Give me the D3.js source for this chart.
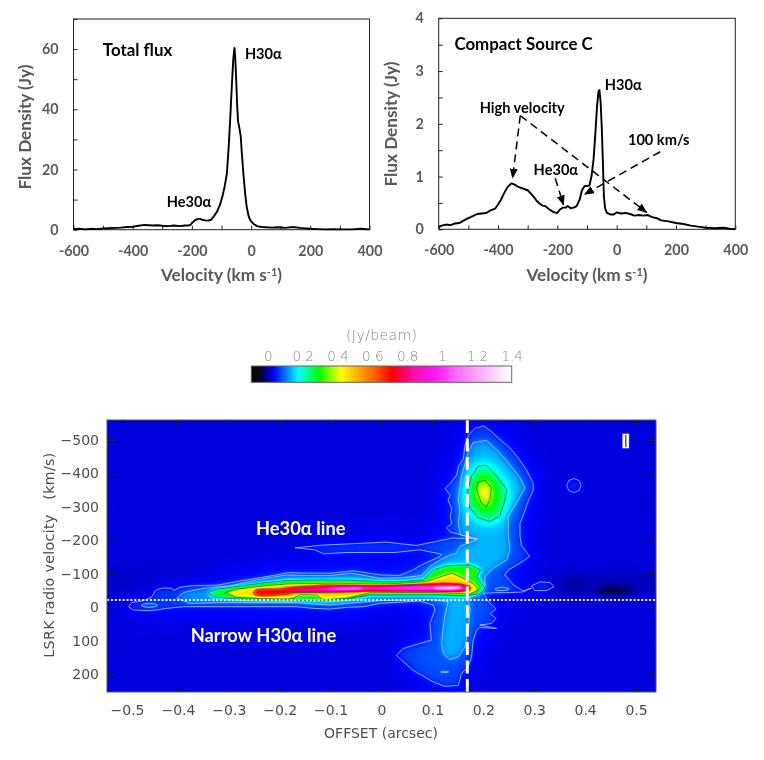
<!DOCTYPE html>
<html><head><meta charset="utf-8">
<script src="https://cdn.jsdelivr.net/npm/d3@7"></script>
<style>
html,body{margin:0;padding:0;background:#fff;width:764px;height:760px;overflow:hidden}
#heat{position:absolute;left:107px;top:420px}
#art{position:absolute;left:0;top:0}
text{font-family:Lato,"Open Sans",sans-serif}
</style></head><body>
<canvas id="heat" width="549" height="272"></canvas>
<svg id="art" width="764" height="760"></svg>
<script>
// ---------- spectra: [velocity km/s, flux density Jy]
const totalFlux=[[-600,.2],[-580,.3],[-560,.1],[-540,.3],[-520,.2],[-500,.4],[-480,.5],[-460,.6],[-440,.7],[-420,.9],[-400,1.0],[-380,1.3],[-360,1.6],[-345,1.5],[-330,1.4],[-315,1.5],[-300,1.3],[-280,1.2],[-260,1.4],[-240,1.2],[-225,1.4],[-210,1.4],[-205,1.6],[-198,2.4],[-190,3.1],[-180,3.6],[-172,3.6],[-165,3.3],[-155,3.1],[-145,3.0],[-135,3.3],[-125,4.6],[-115,6.0],[-105,8.3],[-97,11],[-90,14],[-82,18.5],[-76,27],[-71,36],[-65,48],[-60,57],[-56,60.4],[-53,56],[-50,49],[-47,41],[-44,36],[-40,34],[-35,31],[-31,25],[-26,18.5],[-20,12],[-15,7.6],[-8,4.4],[-3,3.2],[8,1.9],[20,1.2],[35,.9],[50,.8],[70,.7],[90,.8],[115,.6],[140,.9],[165,.6],[200,.3],[225,.2],[250,.1],[280,.2],[310,.1],[340,.1],[370,.3],[400,.1]];
const compactC=[[-600,.04],[-590,.07],[-575,.09],[-560,.08],[-545,.11],[-530,.12],[-515,.17],[-500,.21],[-485,.25],[-470,.29],[-455,.30],[-440,.31],[-425,.36],[-410,.39],[-400,.47],[-390,.56],[-380,.68],[-368,.80],[-355,.87],[-345,.85],[-330,.80],[-315,.77],[-300,.74],[-290,.68],[-280,.62],[-270,.54],[-260,.49],[-250,.45],[-240,.44],[-230,.39],[-220,.35],[-210,.32],[-200,.31],[-192,.37],[-182,.41],[-172,.41],[-165,.44],[-155,.40],[-145,.41],[-135,.44],[-125,.56],[-117,.74],[-108,.82],[-100,.82],[-92,.83],[-85,1.0],[-78,1.32],[-72,1.8],[-66,2.35],[-61,2.62],[-58,2.64],[-54,2.4],[-50,1.9],[-46,1.2],[-43,.62],[-39,.40],[-33,.31],[-20,.28],[-10,.28],[0,.32],[15,.30],[30,.31],[45,.29],[60,.26],[75,.27],[90,.26],[105,.27],[120,.23],[135,.21],[150,.17],[175,.15],[200,.12],[225,.10],[250,.07],[275,.05],[300,.03],[330,.02],[360,.03],[380,.01],[400,0]];
const xTicksSpec=d3.range(-600,401,100), fluxTicks=d3.range(0,71,10), compactTicks=d3.range(0,4.01,.5);
// annotations: [text, velocity, flux, is panel title]
const totalLabels=[["Total flux",-501,57.8,1],["H30α",-21,56.7,0],["He30α",-285,7.6,0]];
const compactLabels=[["Compact Source C",-547,3.40,1],["H30α",-40,2.64,0],["High velocity",-462,2.21,0],["100 km/s",38,1.60,0],["He30α",-280,1.02,0]];
const compactArrows=[[[-325,2.155],[-351,.967]],[[-325,2.155],[102,.316]],[[-207,.967],[-179,.46]],[[147,1.47],[-109,.66]]];

// ---------- colour bar
const barTicks=[0,.2,.4,.6,.8,1,1.2,1.4];
const colourStops=[-.095,-.055,.03,.175,.29,.415,.55,.71,.817,.97,1.12,1.39,1.4];
const colourNames=["#000000","#000010","#0000ff","#00ffff","#00ff00","#ffff00","#ff9000","#ff0000","#ff00a0","#ff20ff","#ff80ff","#ffffff","#ffffff"];

// ---------- position-velocity map: isophotes as [offset arcsec, velocity km/s]
const pvOffsetTicks=d3.range(-.5,.51,.1), pvVelocityTicks=d3.range(-500,201,100);
const iso1=[[-.497,-2],[-.491,-14],[-.468,-20],[-.452,-30],[-.443,-52],[-.429,-58],[-.412,-57],[-.408,-50],[-.396,-60],[-.370,-65],[-.324,-66],[-.285,-77],[-.245,-87],[-.206,-97],[-.183,-104],[-.147,-102],[-.101,-102],[-.055,-109],[-.003,-97],[.036,-95],[.062,-112],[.079,-127],[.115,-152],[.118,-159],[.075,-172],[.026,-164],[-.068,-164],[-.114,-160],[-.131,-172],[-.170,-178],[-.114,-186],[-.003,-194],[.010,-195],[.043,-189],[.069,-185],[.108,-197],[.138,-207],[.189,-205],[.167,-213],[.135,-225],[.128,-238],[.138,-250],[.135,-270],[.138,-295],[.131,-320],[.135,-335],[.125,-355],[.135,-370],[.148,-395],[.151,-420],[.161,-445],[.164,-485],[.171,-515],[.184,-535],[.200,-542],[.216,-525],[.230,-505],[.253,-475],[.269,-445],[.285,-410],[.298,-370],[.298,-350],[.289,-320],[.282,-290],[.272,-250],[.272,-215],[.275,-185],[.291,-152],[.272,-132],[.249,-112],[.242,-97],[.259,-67],[.278,-49],[.295,-58],[.278,-46],[.252,-44],[.226,-44],[.200,-42],[.210,-17],[.225,5],[.213,18],[.225,33],[.216,48],[.193,53],[.226,63],[.193,60],[.187,68],[.180,98],[.177,148],[.170,178],[.157,198],[.151,233],[.124,236],[.102,223],[.062,188],[.036,153],[.029,143],[.043,123],[.075,108],[.098,98],[.095,48],[.105,8],[.102,-7],[.075,-19],[-.003,-12],[-.036,-2],[-.068,0],[-.101,5],[-.134,3],[-.167,-2],[-.219,-2],[-.265,-2],[-.324,-2],[-.389,-2],[-.422,3],[-.455,10],[-.487,8]];
const iso1Blob=[[.295,-64],[.311,-76],[.331,-74],[.339,-62],[.324,-50],[.301,-50]];
const iso1Ring=[[.364,-364],[.368,-379],[.378,-385],[.388,-379],[.392,-364],[.388,-349],[.378,-343],[.368,-349]];
const iso2=[[-.402,-27],[-.389,-44],[-.350,-57],[-.298,-64],[-.245,-82],[-.186,-97],[-.147,-95],[-.101,-95],[-.059,-102],[-.003,-87],[.043,-89],[.079,-95],[.095,-122],[.121,-147],[.147,-162],[.154,-182],[.187,-202],[.155,-217],[.151,-252],[.154,-292],[.151,-322],[.157,-392],[.170,-462],[.180,-492],[.206,-499],[.229,-467],[.252,-427],[.272,-387],[.282,-357],[.265,-312],[.249,-272],[.249,-222],[.252,-172],[.246,-142],[.219,-117],[.203,-92],[.203,-62],[.193,-44],[.170,-27],[.174,8],[.170,68],[.164,118],[.151,148],[.134,156],[.122,138],[.118,108],[.120,78],[.124,28],[.131,-17],[.095,-24],[-.003,-20],[-.068,-12],[-.101,-7],[-.134,-10],[-.167,-14],[-.219,-14],[-.271,-14],[-.324,-14],[-.376,-12]];
const iso2OvalA=[[-.472,-6],[-.467,-10],[-.456,-12],[-.445,-10],[-.440,-6],[-.445,-2],[-.456,0],[-.467,-2]];
const iso2OvalB=[[.223,-55],[.23,-59],[.24,-60],[.25,-56],[.249,-52],[.236,-50],[.226,-51]];
const iso2OvalC=[[.116,193],[.124,191],[.132,193],[.124,195]];
const iso3=[[-.341,-44],[-.324,-54],[-.285,-62],[-.239,-72],[-.186,-80],[-.134,-82],[-.068,-82],[-.003,-77],[.043,-77],[.082,-82],[.102,-112],[.128,-124],[.174,-127],[.195,-112],[.187,-92],[.196,-72],[.203,-57],[.193,-42],[.170,-34],[.108,-37],[.043,-37],[-.023,-37],[-.068,-24],[-.114,-20],[-.140,-20],[-.180,-22],[-.245,-22],[-.298,-26],[-.330,-32]];
const iso3Lobe=[[.170,-352],[.177,-392],[.190,-422],[.206,-425],[.226,-392],[.246,-352],[.242,-317],[.232,-272],[.213,-257],[.190,-267],[.174,-297],[.167,-332]];
const iso4=[[-.307,-44],[-.285,-54],[-.245,-62],[-.186,-70],[-.101,-72],[-.003,-70],[.043,-72],[.088,-77],[.108,-87],[.138,-102],[.167,-82],[.183,-67],[.190,-52],[.174,-40],[.108,-44],[-.023,-44],[-.068,-27],[-.114,-22],[-.127,-37],[-.160,-39],[-.173,-27],[-.186,-24],[-.232,-26],[-.285,-30]];
const iso4Lobe=[[.187,-357],[.190,-374],[.203,-380],[.216,-357],[.213,-322],[.206,-300],[.196,-312],[.190,-337]];
const iso5=[[-.252,-44],[-.245,-54],[-.199,-55],[-.186,-59],[-.114,-67],[-.003,-65],[.043,-67],[.121,-72],[.154,-70],[.174,-62],[.174,-52],[.154,-47],[.043,-46],[-.023,-48],[-.101,-45],[-.173,-44],[-.186,-39],[-.232,-34],[-.249,-37]];
const coreMagenta=[[-.186,-52],[-.127,-57],[-.003,-62],[.043,-65],[.154,-67],[.167,-60],[.160,-50],[.043,-50],[-.023,-52],[-.101,-48],[-.167,-46]];
const corePink=[[-.127,-55],[-.068,-60],[-.003,-61],[.043,-62],[.108,-63],[.154,-62],[.159,-57],[.141,-52],[.043,-53],[-.023,-55],[-.101,-53]];
const coreWhiteA=[[-.114,-55],[-.08,-59],[-.04,-60],[-.04,-54],[-.08,-53]];
const coreWhiteB=[[.105,-61],[.154,-62],[.159,-57],[.141,-53],[.105,-54]];
const darkCore=[[.42,-50],[.45,-57],[.49,-53],[.50,-47],[.46,-42],[.43,-44]];
const darkBandR=[[.33,-85],[.40,-100],[.54,-105],[.54,-55],[.45,-35],[.33,-45]];
const darkBandL=[[-.54,-55],[-.54,-100],[-.40,-110],[-.30,-105],[-.36,-70],[-.45,-45]];
const darkSpotA=[[.36,-85],[.40,-88],[.40,-72],[.36,-72]];
const darkSpotB=[[.34,-55],[.40,-58],[.40,-46],[.35,-46]];
const beamBox=[[.474,-518],[.486,-476]], beamLine=[.480,-515,-479];
const rowDotted=-22, colDashed=.1686;
const valueBase=.018;
// polygon, value step, smoothing radius
const pvLayers=[
 [iso1,.035,14],[iso1,.03,2.2],[iso1Blob,.04,3],[iso1Ring,.03,3],
 [iso2,.05,2.4],[iso2OvalA,.04,1.5],[iso2OvalB,.03,1.5],[iso2OvalC,.03,1],
 [iso3,.17,1.6],[iso3Lobe,.14,8],[iso3Lobe,.03,4],
 [iso4,.16,1.3],[iso4Lobe,.14,4],
 [iso5,.29,1.1],[coreMagenta,.14,.9],[corePink,.18,.8],[coreWhiteA,.3,.8],[coreWhiteB,.3,.8],
 [darkBandR,-.014,7],[darkBandL,-.012,9],[darkCore,-.09,3],[darkSpotA,-.02,3],[darkSpotB,-.02,3]];
const pvLightContours=[iso1,iso1Blob,iso1Ring,iso2,iso2OvalA,iso2OvalB,iso2OvalC];
const pvDarkContours=[iso3,iso3Lobe,iso4,iso4Lobe,iso5];
const pvLabels=[["He30α line",-.2465,-217],["Narrow H30α line",-.3748,103]];

const svg=d3.select("#art");
const INK="#000", GREY="#595959", PV="#4d4d4d";

function spectrum(o){
  const x=d3.scaleLinear().domain([-600,400]).range([o.l,o.r]);
  const y=d3.scaleLinear().domain(o.yDomain).range([o.b,o.t]);
  const g=svg.append("g");
  const ax=g.append("g").attr("transform",`translate(0,${o.b})`)
    .call(d3.axisBottom(x).tickValues(xTicksSpec).tickSizeOuter(0).tickSizeInner(-4).tickPadding(16).tickFormat(d=>d%200===0?d:""));
  const ay=g.append("g").attr("transform",`translate(${o.l},0)`)
    .call(d3.axisLeft(y).tickValues(o.ticks).tickSizeOuter(0).tickSizeInner(-4).tickPadding(15).tickFormat(o.fmt));
  [ax,ay].forEach(a=>{a.select(".domain").remove();a.selectAll("line").attr("stroke","#222");
    a.selectAll("text").attr("fill",GREY).style("font","700 14.3px Lato")});
  g.append("rect").attr("x",o.l).attr("y",o.t).attr("width",o.r-o.l).attr("height",o.b-o.t)
    .attr("fill","none").attr("stroke","#222").attr("stroke-width",1);
  g.append("path").datum(o.data).attr("fill","none").attr("stroke",INK).attr("stroke-width",1.9)
    .attr("stroke-linejoin","round").attr("d",d3.line().x(d=>x(d[0])).y(d=>y(d[1])));
  g.selectAll("text.lab").data(o.labels).join("text").attr("class","lab")
    .attr("x",d=>x(d[1])).attr("y",d=>y(d[2])).text(d=>d[0])
    .attr("fill",INK).style("font",d=>d[3]?"700 16.9px Lato":"700 14.6px Lato");
  const t=g.append("text").attr("x",(o.l+o.r)/2).attr("y",o.b+51.5).attr("text-anchor","middle")
    .attr("fill",GREY).style("font","700 17.2px Lato");
  t.append("tspan").text("Velocity (km s");
  t.append("tspan").text("-1").attr("dy",-5).style("font-size","11px");
  t.append("tspan").text(")").attr("dy",5);
  g.append("text").attr("transform",`translate(${o.titleX},${o.titleY}) rotate(-90)`).attr("text-anchor","middle")
    .attr("fill",GREY).style("font","700 17.2px Lato").text("Flux Density (Jy)");
  return {x,y,g};
}
spectrum({l:73.5,r:369.5,t:19,b:229.7,yDomain:[0,70],ticks:fluxTicks,fmt:d=>d%20===0?d:"",data:totalFlux,labels:totalLabels,titleX:31,titleY:127});
const c2=spectrum({l:438.7,r:735.3,t:18.3,b:229.3,yDomain:[0,4],ticks:compactTicks,fmt:d=>Number.isInteger(d)?d:"",data:compactC,labels:compactLabels,titleX:397,titleY:124});
svg.append("defs").append("marker").attr("id","ah").attr("markerUnits","userSpaceOnUse").attr("markerWidth",10).attr("markerHeight",10)
  .attr("viewBox","0 0 10 10").attr("refX",9.5).attr("refY",5).attr("orient","auto")
  .append("path").attr("d","M0,1 L10,5 L0,9 Z").attr("fill",INK);
c2.g.selectAll("line.arrow").data(compactArrows).join("line").attr("class","arrow")
  .attr("x1",d=>c2.x(d[0][0])).attr("y1",d=>c2.y(d[0][1])).attr("x2",d=>c2.x(d[1][0])).attr("y2",d=>c2.y(d[1][1]))
  .attr("stroke",INK).attr("stroke-width",1.5).attr("stroke-dasharray","8 5").attr("marker-end","url(#ah)");

// colour map
const colour=d3.scaleLinear().domain(colourStops).range(colourNames).clamp(true);

// colour bar
const barX=d3.scaleLinear().domain([-.095,1.4]).range([251.3,511.7]);
const bar=svg.append("g");
bar.selectAll("rect").data(d3.range(-.095,1.4,.0056)).join("rect")
  .attr("x",d=>barX(d)).attr("y",366).attr("width",1.6).attr("height",16.3).attr("fill",d=>colour(d));
bar.append("rect").attr("x",251.3).attr("y",366).attr("width",260.4).attr("height",16.3).attr("fill","none").attr("stroke","#666");
const barAxis=bar.append("g").attr("transform","translate(0,366)")
  .call(d3.axisTop(barX).tickValues(barTicks).tickSize(0).tickPadding(5).tickFormat(d=>d));
barAxis.select(".domain").remove();
barAxis.selectAll("text").attr("fill","#858585").style("font","300 13.5px 'DejaVu Sans'");
bar.append("text").attr("x",381.7).attr("y",340).attr("text-anchor","middle").attr("fill","#858585")
  .style("font","300 14px 'DejaVu Sans'").style("letter-spacing",".4px").text("(Jy/beam)");

// position-velocity map
const L=107,R=656,T=420,B=692,W=R-L,H=B-T;
const px=d3.scaleLinear().domain([-.5,.5]).range([127,636]);
const py=d3.scaleLinear().domain([-500,200]).range([440,674.3]);
const line=d3.line().x(d=>px(d[0])).y(d=>py(d[1])).curve(d3.curveLinearClosed);

const cv=document.getElementById("heat"),ctx=cv.getContext("2d",{willReadFrequently:true});
const field=new Float32Array(W*H).fill(valueBase);
const off=document.createElement("canvas");off.width=W;off.height=H;
const oc=off.getContext("2d",{willReadFrequently:true});
pvLayers.forEach(([poly,step,radius])=>{
  oc.clearRect(0,0,W,H);oc.save();oc.translate(-L,-T);oc.fillStyle="#fff";
  oc.fill(new Path2D(line(poly)));oc.restore();
  const px4=oc.getImageData(0,0,W,H).data,mask=new Float32Array(W*H);
  for(let i=0;i<W*H;i++)mask[i]=px4[i*4+3]/255;
  d3.blur2({data:mask,width:W,height:H},radius);
  for(let i=0;i<W*H;i++)field[i]+=step*mask[i];
});
const img=ctx.createImageData(W,H);
for(let i=0;i<W*H;i++){const c=d3.rgb(colour(field[i]));img.data[i*4]=c.r;img.data[i*4+1]=c.g;img.data[i*4+2]=c.b;img.data[i*4+3]=255;}
ctx.putImageData(img,0,0);

const pv=svg.append("g");
pv.selectAll("path.light").data(pvLightContours).join("path").attr("class","light").attr("d",d=>line(d))
  .attr("fill","none").attr("stroke","#c4d8f0").attr("stroke-opacity",.8).attr("stroke-width",.9);
pv.selectAll("path.dark").data(pvDarkContours).join("path").attr("class","dark").attr("d",d=>line(d))
  .attr("fill","none").attr("stroke","#1d3a3a").attr("stroke-opacity",.75).attr("stroke-width",.8);
pv.append("line").attr("x1",L).attr("x2",R).attr("y1",py(rowDotted)).attr("y2",py(rowDotted))
  .attr("stroke","#fff").attr("stroke-width",2.2).attr("stroke-dasharray","2 1.9");
pv.append("line").attr("x1",px(colDashed)).attr("x2",px(colDashed)).attr("y1",T).attr("y2",B)
  .attr("stroke","#fff").attr("stroke-width",3).attr("stroke-dasharray","13 5.5");
pv.append("rect").attr("x",px(beamBox[0][0])).attr("y",py(beamBox[0][1]))
  .attr("width",px(beamBox[1][0])-px(beamBox[0][0])).attr("height",py(beamBox[1][1])-py(beamBox[0][1]))
  .attr("fill","#fff").attr("stroke","#dfe6ff").attr("stroke-width",.6);
pv.append("line").attr("x1",px(beamLine[0])).attr("x2",px(beamLine[0])).attr("y1",py(beamLine[1])).attr("y2",py(beamLine[2]))
  .attr("stroke","#333").attr("stroke-width",1.2);

const pvAxes=[
 [d3.axisBottom(px).tickValues(pvOffsetTicks).tickSize(-5).tickPadding(13).tickFormat(v=>Math.abs(v)<1e-9?"0":d3.format(".1f")(v)),`translate(0,${B})`],
 [d3.axisTop(px).tickValues(pvOffsetTicks).tickSize(-5).tickFormat(""),`translate(0,${T})`],
 [d3.axisLeft(py).tickValues(pvVelocityTicks).tickSize(-9).tickPadding(8),`translate(${L},0)`],
 [d3.axisRight(py).tickValues(pvVelocityTicks).tickSize(-9).tickFormat(""),`translate(${R},0)`]];
pvAxes.forEach(([a,t])=>{const g=pv.append("g").attr("transform",t).call(a.tickSizeOuter(0));
  g.select(".domain").remove();g.selectAll("line").attr("stroke","#222").attr("stroke-width",1);
  g.selectAll("text").attr("fill",PV).style("font","400 14px 'DejaVu Sans'")});
pv.append("rect").attr("x",L).attr("y",T).attr("width",W).attr("height",H).attr("fill","none").attr("stroke","#555").attr("stroke-width",1);
pv.append("text").attr("x",381).attr("y",738).attr("text-anchor","middle").attr("fill",PV)
  .style("font","400 14px 'DejaVu Sans'").style("white-space","pre").text("OFFSET (arcsec)");
pv.append("text").attr("transform","translate(54,555) rotate(-90)").attr("text-anchor","middle").attr("fill",PV)
  .style("font","400 14.2px 'DejaVu Sans'").style("letter-spacing",".35px").style("white-space","pre").text("LSRK radio velocity   (km/s)");
pv.selectAll("text.wl").data(pvLabels).join("text").attr("class","wl").attr("x",d=>px(d[1])).attr("y",d=>py(d[2]))
  .text(d=>d[0]).attr("fill","#fff").style("font","700 18.3px Lato");
</script></body></html>
